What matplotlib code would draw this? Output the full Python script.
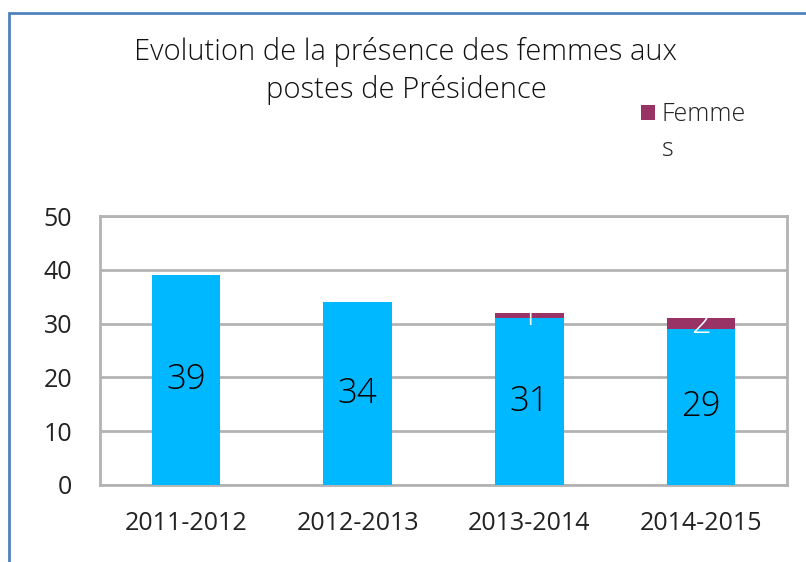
import matplotlib
matplotlib.use("Agg")
import matplotlib.pyplot as plt
from matplotlib.patches import Rectangle
import numpy as np

categories = ["2011-2012", "2012-2013", "2013-2014", "2014-2015"]
hommes = [39, 34, 31, 29]
femmes = [0, 0, 1, 2]
yticks = [0, 10, 20, 30, 40, 50]
title = "Evolution de la présence des femmes aux\npostes de Présidence"
legend_label = "Femme\ns"

plt.rcParams["font.family"] = ["Open Sans", "DejaVu Sans"]
LIGHT = 300

blue = "#00B8FF"
plum = "#993366"
grid = "#b3b3b3"
ink = "#222222"

fig = plt.figure(figsize=(8.06, 5.62), dpi=100)
fig.patch.set_facecolor("white")

# outer frame of the chart object
fig.add_artist(Rectangle((9 / 806, -0.1), 1.2, 1.1 - 13 / 562,
                         transform=fig.transFigure, fill=False,
                         edgecolor="#4F81BD", linewidth=2))

ax = fig.add_axes([100 / 806, 77 / 562, 687 / 806, 269 / 562])
x = np.arange(len(categories))
w = 0.4
b1 = ax.bar(x, hommes, w, color=blue, zorder=3)
b2 = ax.bar(x, femmes, w, bottom=hommes, color=plum, zorder=3)

for xi, h in zip(x, hommes):
    ax.text(xi, h / 2, str(h), ha="center", va="center", fontsize=25,
            fontweight=LIGHT, color="black", zorder=4)
for xi, h, f in zip(x, hommes, femmes):
    if f > 0:
        ax.text(xi, h + f / 2, str(f), ha="center", va="center", fontsize=25,
                fontweight=LIGHT, color="white", zorder=4)

ax.set_xlim(-0.5, len(categories) - 0.5)
ax.set_ylim(0, 50)
ax.set_yticks(yticks)
ax.set_yticklabels([str(t) for t in yticks], fontsize=18)
ax.set_xticks(x)
ax.set_xticklabels(categories, fontsize=18)
ax.tick_params(length=0, colors=ink)
ax.tick_params(axis="y", pad=20)
ax.tick_params(axis="x", pad=19)
ax.yaxis.grid(True, color=grid, linewidth=2, zorder=0)
for s in ax.spines.values():
    s.set_color(grid)
    s.set_linewidth(2)

fig.text(406 / 806, 1 - 71 / 562, title, ha="center", va="center",
         fontsize=21, fontweight=LIGHT, color="#111111", linespacing=1.35)

# legend: square key for the Femmes series with its wrapped label
fig.add_artist(Rectangle((641 / 806, 1 - 120 / 562), 14 / 806, 15 / 562,
                         transform=fig.transFigure, facecolor=plum,
                         edgecolor="none"))
fig.text(662 / 806, 1 - 102 / 562, legend_label, ha="left", va="top",
         fontsize=18, fontweight=LIGHT, color=ink, linespacing=1.5)

fig.savefig("out.png", dpi=100)
